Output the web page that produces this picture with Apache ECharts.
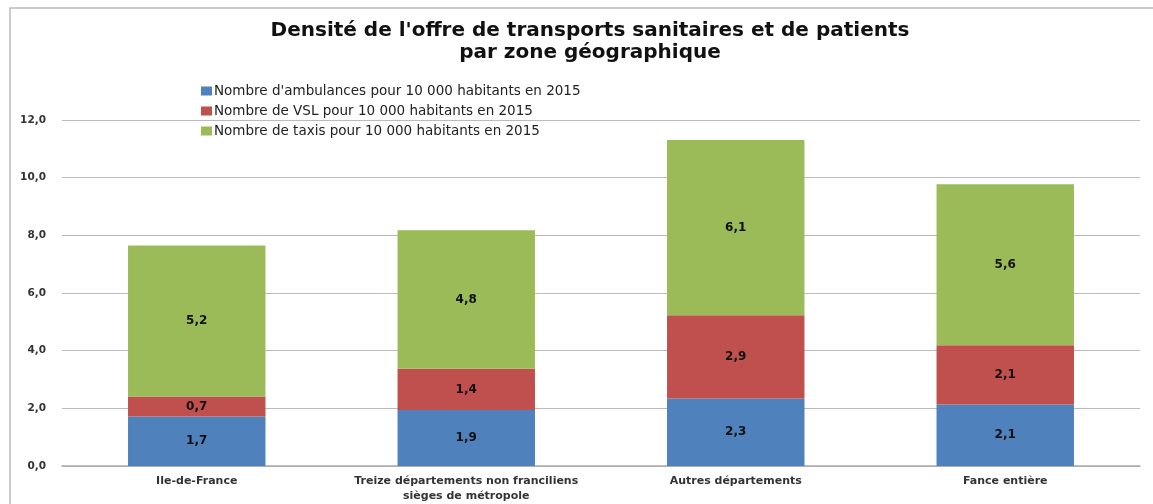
<!DOCTYPE html>
<html>
<head>
<meta charset="utf-8">
<script src="https://cdn.jsdelivr.net/npm/echarts@6/dist/echarts.min.js"></script>
<style>
  html, body { margin: 0; padding: 0; background: #fff; }
  #chart { width: 1153px; height: 504px; }
</style>
</head>
<body>
<div id="chart"></div>
<script>
var categories = ["Ile-de-France", "Treize départements non franciliens\nsièges de métropole", "Autres départements", "Fance entière"];
var ambulances = [1.72, 1.94, 2.34, 2.13];
var vsl = [0.69, 1.43, 2.89, 2.06];
var taxis = [5.24, 4.81, 6.08, 5.58];
var seriesNames = [
  "Nombre d'ambulances pour 10 000 habitants en 2015",
  "Nombre de VSL pour 10 000 habitants en 2015",
  "Nombre de taxis pour 10 000 habitants en 2015"
];
var yTicks = [0, 2, 4, 6, 8, 10, 12];

(function () {
  var font = "'DejaVu Sans', sans-serif";
  var fmt = function (v) {
    return v.toFixed(1).replace(".", ",");
  };
  var label = {
    show: true,
    position: "inside",
    color: "#111",
    fontWeight: "bold",
    fontSize: 12,
    fontFamily: font,
    formatter: function (p) {
      return fmt(p.value);
    },
  };
  var makeSeries = function (name, data, color) {
    return {
      name: name,
      type: "bar",
      stack: "total",
      barWidth: "51%",
      data: data,
      itemStyle: { color: color },
      label: label,
    };
  };
  var option = {
    animation: false,
    textStyle: { fontFamily: font },
    title: {
      text: "Densité de l'offre de transports sanitaires et de patients\npar zone géographique",
      left: 585,
      textAlign: "center",
      top: 15,
      textStyle: { fontSize: 20, fontWeight: "bold", color: "#111", lineHeight: 22, fontFamily: font },
    },
    legend: {
      orient: "vertical",
      left: 196,
      top: 79,
      itemGap: 6,
      itemWidth: 11,
      itemHeight: 9,
      icon: "rect",
      textStyle: { fontSize: 13.5, color: "#222", fontFamily: font, padding: [0, 0, 0, -3] },
      data: seriesNames,
    },
    grid: { left: 62, right: 13, top: 120, bottom: 35 },
    xAxis: {
      type: "category",
      data: categories,
      axisTick: { show: false },
      axisLine: { lineStyle: { color: "#aaa", width: 1.5 } },
      axisLabel: {
        interval: 0,
        hideOverlap: false,
        color: "#333",
        fontSize: 11,
        fontWeight: "bold",
        fontFamily: font,
        lineHeight: 15,
        margin: 8,
      },
    },
    yAxis: {
      type: "value",
      min: 0,
      max: 12,
      interval: 2,
      axisLabel: {
        color: "#333",
        fontSize: 10.5,
        fontWeight: "bold",
        fontFamily: font,
        margin: 16,
        formatter: function (v) {
          return yTicks.indexOf(v) >= 0 ? fmt(v) : "";
        },
      },
      splitLine: { lineStyle: { color: "#bbb", width: 1.2 } },
    },
    graphic: [
      {
        type: "rect",
        shape: { x: 10, y: 8, width: 1160, height: 520 },
        style: { fill: "none", stroke: "#bbb", lineWidth: 1.5 },
        silent: true,
      },
    ],
    series: [
      makeSeries(seriesNames[0], ambulances, "#4f81bd"),
      makeSeries(seriesNames[1], vsl, "#c0504d"),
      makeSeries(seriesNames[2], taxis, "#9bbb59"),
    ],
  };
  var myChart = echarts.init(document.getElementById("chart"));
  myChart.setOption(option);
})();
</script>
</body>
</html>
